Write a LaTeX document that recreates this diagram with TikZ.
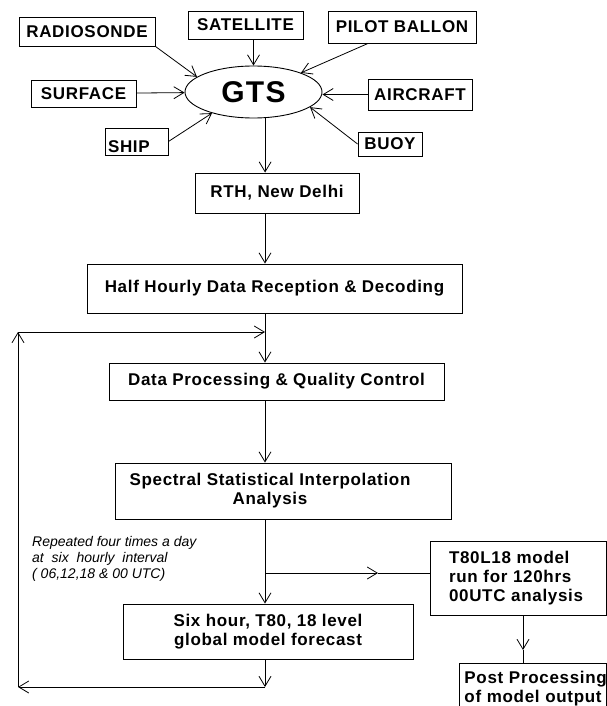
\documentclass[tikz,border=0pt]{standalone}
\usepackage{fontspec}
\newfontfamily\lblfont[LetterSpace=4]{Liberation Sans}
\newfontfamily\notefont{Liberation Sans}
\usetikzlibrary{arrows.meta,shapes.geometric}
\newcommand{\SourceBox}[6]{%
  \node[box, minimum width=#4pt, minimum height=#5pt] (#1) at (#2,#3) {#6};
}

\begin{document}
\begin{tikzpicture}[x=1pt,y=-1pt,
    box/.style={draw, line width=0.9pt, inner sep=0pt, font=\lblfont\bfseries\fontsize{17}{19}\selectfont},
    arr/.style={-{Straight Barb[length=10pt,width=12pt]}, line width=0.8pt},
    note/.style={align=left, inner sep=0pt, font=\notefont\itshape\fontsize{14}{16}\selectfont}]
    \clip (0,0) rectangle (607,706);
    % observation sources round the GTS
    \node[box, ellipse, minimum width=137pt, minimum height=52pt,
      font=\lblfont\bfseries\fontsize{30}{36}\selectfont] (gts) at (253.5,92) {GTS};
    \SourceBox{radio}{87}{31.5}{136}{29}{RADIOSONDE}
    \SourceBox{sat}{245.5}{25}{115}{28}{SATELLITE}
    \SourceBox{pilot}{402}{27}{148}{32}{PILOT BALLON}
    \SourceBox{surf}{83.5}{93.5}{105}{27}{SURFACE}
    \SourceBox{air}{420}{94.5}{104}{31}{AIRCRAFT}
    \SourceBox{buoy}{390}{144}{64}{24}{BUOY}
    \node[box, inner xsep=3pt, inner ysep=2pt, text height=22pt, text depth=1pt] (ship)
      at (136.5,141.5) {\makebox[57pt][l]{SHIP}};
    \draw[arr] (radio.south east) -- (gts.165);
    \draw[arr] (gts.north |- sat.south) -- (gts.north);
    \draw[arr] ([xshift=-34pt]pilot.south) -- (gts.22);
    \draw[arr] (surf) -- (gts);
    \draw[arr] (air.west) -- (air.west -| gts.east);
    \draw[arr] (ship.east) -- (gts.207);
    \draw[arr] (buoy.west) -- (gts.345);
    % main chain
    \SourceBox{rth}{277}{193}{164}{40}{RTH, New Delhi}
    \SourceBox{half}{274.5}{288.5}{375}{49}{Half Hourly Data Reception \& Decoding}
    \SourceBox{dp}{276.5}{381.5}{335}{37}{Data Processing \& Quality Control}
    \node[box, align=center, minimum width=336pt, minimum height=56pt] (ssi) at (283,491)
      {Spectral Statistical Interpolation\hspace*{26pt}\\Analysis\hspace*{26pt}};
    \node[box, align=center, minimum width=290pt, minimum height=55pt] (six) at (268,631.5)
      {Six hour, T80, 18 level\\global model forecast};
    \node[box, align=left, inner xsep=19pt, text width=138pt, minimum height=74pt] (t80)
      at (518,578) {\mbox{T80L18 model}\\\mbox{run for 120hrs}\\\mbox{00UTC analysis}};
    \node[box, align=left, anchor=north west, inner xsep=5pt, text width=137pt, minimum height=50pt] (post)
      at (459,663) {\mbox{Post Processing}\\\mbox{of model output}};
    \node[note, anchor=west] (rep) at (32,559)
      {Repeated four times a day\\at\ \ six\ \ hourly\ \ interval\\( 06,12,18 \& 00 UTC)};
    \coordinate (axis) at (265,0);
    \draw[arr] (gts.-66) -- (gts.-66 |- rth.north);
    \draw[arr] (rth.south -| axis) -- (half.north -| axis);
    \draw[arr] (half.south -| axis) -- (dp.north -| axis);
    \draw[arr] (dp.south -| axis) -- (ssi.north -| axis);
    \draw[arr] (ssi.south -| axis) -- (six.north -| axis);
    % branch to the long range run
    \coordinate (br) at (265,573);
    \coordinate (brmid) at (378,573);
    \draw[arr] (br) -- (brmid);
    \draw[line width=0.8pt] (brmid) -- (br -| t80.west);
    \coordinate (postin) at (523,650);
    \draw[arr] (t80.south -| postin) -- (postin);
    \draw[line width=0.8pt] (postin) -- (post.north -| postin);
    % six hourly cycle
    \coordinate (loopbr) at (265,687);
    \coordinate (loopbl) at (18,687);
    \coordinate (looptl) at (18,332);
    \coordinate (looptr) at (265,332);
    \draw[arr] (six.south -| axis) -- (loopbr);
    \draw[arr] (loopbr) -- (loopbl);
    \draw[arr] (loopbl) -- (looptl);
    \draw[arr] (looptl) -- (looptr);
\end{tikzpicture}
\end{document}
